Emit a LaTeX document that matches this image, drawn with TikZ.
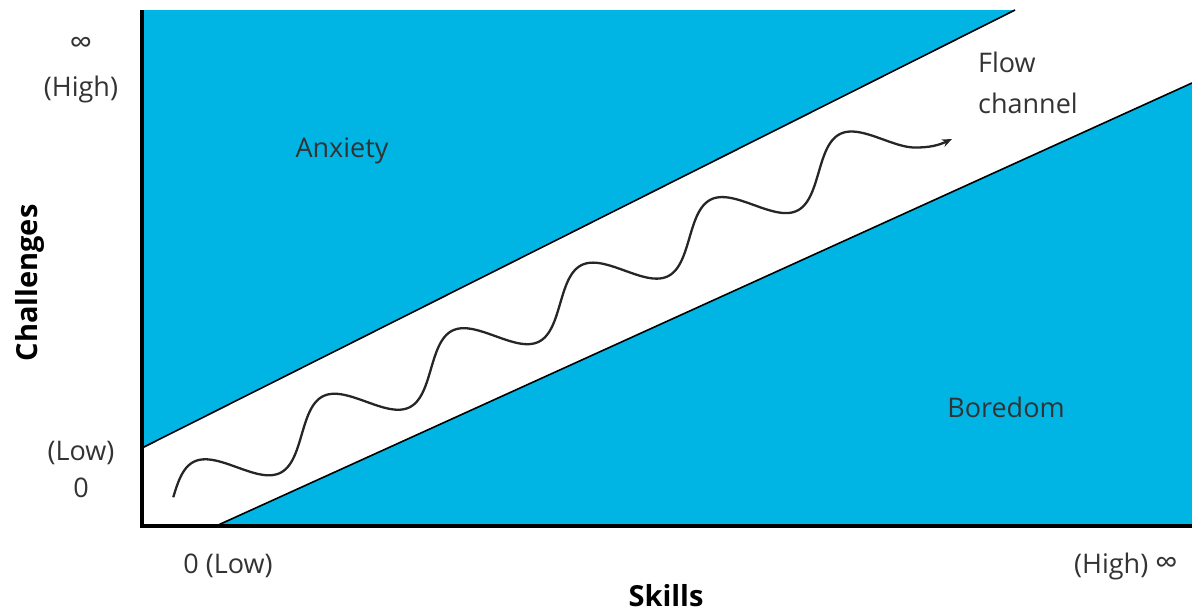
\documentclass[tikz,border=0pt]{standalone}
\usepackage{fontspec}
\setmainfont{Open Sans}
\usepackage{xcolor}
\usepackage{tikz}
\usetikzlibrary{arrows.meta}
\definecolor{flowblue}{RGB}{0,181,228}

\tikzset{
  lbl/.style={font=\fontsize{27}{32}\selectfont, text=black!80, inner sep=0pt},
  axlbl/.style={font=\bfseries\fontsize{29}{34}\selectfont, inner sep=0pt},
  wave/.style={line width=2.3pt, black!85, -{Stealth[length=10pt,width=8pt]}},
}

\begin{document}
\begin{tikzpicture}[x=1pt,y=-1pt]
    \useasboundingbox (0,0) rectangle (1192,613);
    % corners of the plot
    \coordinate (O) at (142,526);
    \coordinate (top) at (142,10);
    \coordinate (right) at (1192,526);
    % edges of the flow channel
    \coordinate (a1) at (142,448);
    \coordinate (a2) at (1015,10);
    \coordinate (b1) at (216,526);
    \coordinate (b2) at (1192,83);

    \fill[flowblue] (top) -- (a2) -- (a1) -- cycle;
    \fill[flowblue] (b1) -- (b2) -- (right) -- cycle;
    \draw[line width=1.6pt] (a1) -- (a2);
    \draw[line width=1.6pt] (b1) -- (b2);
    \draw[line width=4pt] (top) -- (O) -- (right);

    % the path through the channel: a sine wave along the channel
    \coordinate (tip) at (952,139);
    \draw[wave] plot[domain=5:2041.5, samples=400, variable=\t]
        ({215 + (\t-118.5)*0.359 - 11.08*sin(\t)}, {478.5 - (\t-118.5)*0.1821 - 21.85*sin(\t)})
      to[out=0,in=205] (tip);

    \node[lbl] (anx) at (342,157) [anchor=base] {Anxiety};
    \node[lbl] (bor) at (1006,417) [anchor=base] {Boredom};
    \node[lbl] (flow) at (978,72) [anchor=base west] {Flow};
    \node[lbl] (chan) at (978,113) [anchor=base west] {channel};

    \node[lbl, font=\fontsize{32}{32}\selectfont] (yinf) at (81,45) {∞};
    \node[lbl] (yhigh) at (81,96) [anchor=base] {(High)};
    \node[lbl] (ylow) at (81,460) [anchor=base] {(Low)};
    \node[lbl] (yzero) at (81,497) [anchor=base] {0};
    \node[lbl] (xlow) at (228,573) [anchor=base] {0 (Low)};
    \node[lbl] (xhigh) at (1178,573) [anchor=base east] {(High) {\fontsize{32}{32}\selectfont ∞}};

    \node[axlbl] (skills) at (666,606) [anchor=base] {Skills};
    \node[axlbl, rotate=90] (chall) at (30,283) {Challenges};
\end{tikzpicture}
\end{document}
